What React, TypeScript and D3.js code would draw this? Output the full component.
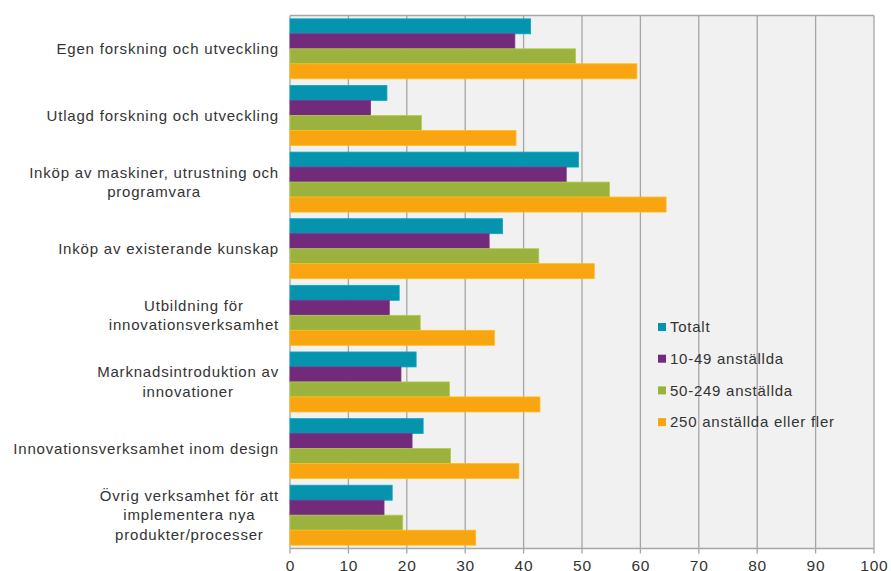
import React from "react";
import * as d3 from "d3";

const categories: string[][] = [
  ["Egen forskning och utveckling"],
  ["Utlagd forskning och utveckling"],
  ["Inköp av maskiner, utrustning och", "programvara"],
  ["Inköp av existerande kunskap"],
  ["Utbildning för", "innovationsverksamhet"],
  ["Marknadsintroduktion av", "innovationer"],
  ["Innovationsverksamhet inom design"],
  ["Övrig verksamhet för att", "implementera nya", "produkter/processer"],
];
const seriesNames = ["Totalt", "10-49 anställda", "50-249 anställda", "250 anställda eller fler"];
const totalt = [41.2, 16.6, 49.4, 36.4, 18.7, 21.6, 22.8, 17.5];
const small = [38.5, 13.8, 47.3, 34.1, 17.0, 19.0, 20.9, 16.1];
const medium = [48.9, 22.5, 54.7, 42.6, 22.3, 27.3, 27.5, 19.3];
const large = [59.4, 38.7, 64.4, 52.1, 35.0, 42.8, 39.2, 31.8];
const xTicks = [0, 10, 20, 30, 40, 50, 60, 70, 80, 90, 100];
const colors = ["#0593ad", "#722a7a", "#9bb23e", "#f9a411"];

const series = [totalt, small, medium, large];

const W = 891, H = 571;
const left = 290, right = 874, top = 15.5, bottom = 548.5;
const FONT = "Liberation Sans, Arial, sans-serif";
const LS = 0.8;

function measure(t: string, size: number) {
  const c = document.createElement("canvas").getContext("2d")!;
  c.font = `${size}px ${FONT}`;
  return c.measureText(t).width + LS * t.length;
}

export default function App() {
  const x = d3.scaleLinear().domain([0, 100]).range([left, right]);
  const idx = categories.map((_, i) => String(i));
  const y = d3.scaleBand().domain(idx).range([top, bottom]).paddingInner(0.1).paddingOuter(0.05);
  const yBand = d3.scaleBand().domain(["0", "1", "2", "3"]).range([0, y.bandwidth()]);
  const band = d3.scaleBand().domain(idx).range([top, bottom]);
  const labelSize = 15;
  const lineH = 19.5;
  return (
    <svg width={W} height={H} style={{ position: "absolute", left: 0, top: 0 }} fontFamily={FONT}>
      <rect x={left} y={top} width={right - left} height={bottom - top} fill="#f1f1f1" />
      {xTicks.map((t) => (
        <line key={t} x1={x(t)} x2={x(t)} y1={top} y2={bottom + 5} stroke="#a6a6a6" strokeWidth={1.3} />
      ))}
      <line x1={left} x2={right} y1={top} y2={top} stroke="#a6a6a6" strokeWidth={1.3} />
      <line x1={left} x2={right} y1={bottom} y2={bottom} stroke="#a6a6a6" strokeWidth={1.3} />
      {categories.map((_, ci) =>
        series.map((s, si) => (
          <rect
            key={`${ci}-${si}`}
            x={x(0)}
            y={(y(String(ci)) as number) + (yBand(String(si)) as number)}
            width={x(s[ci]) - x(0)}
            height={yBand.bandwidth()}
            fill={colors[si]}
            stroke={d3.color(colors[si])!.brighter(0.4).formatHex()}
            strokeWidth={0.8}
          />
        ))
      )}
      {categories.map((lines, ci) => {
        const cy = (band(String(ci)) as number) + band.bandwidth() / 2;
        const maxW = Math.max(...lines.map((l) => measure(l, labelSize)));
        const cx = 279 - maxW / 2;
        const y0 = cy - ((lines.length - 1) * lineH) / 2;
        return lines.map((l, li) => (
          <text key={`${ci}-${li}`} x={cx} y={y0 + li * lineH} dy="0.35em" textAnchor="middle" fontSize={labelSize} letterSpacing={LS} fill="#333">
            {l}
          </text>
        ));
      })}
      {xTicks.map((t) => (
        <text key={t} x={x(t) + LS / 2} y={570.5} textAnchor="middle" fontSize={15.5} letterSpacing={LS} fill="#333">
          {t}
        </text>
      ))}
      {seriesNames.map((n, i) => (
        <g key={n} transform={`translate(658, ${327 + i * 31.7})`}>
          <rect x={0} y={-4} width={8} height={8} fill={colors[i]} />
          <text x={12} y={0} dy="0.35em" fontSize={15} letterSpacing={0.75} fill="#333">
            {n}
          </text>
        </g>
      ))}
    </svg>
  );
}
